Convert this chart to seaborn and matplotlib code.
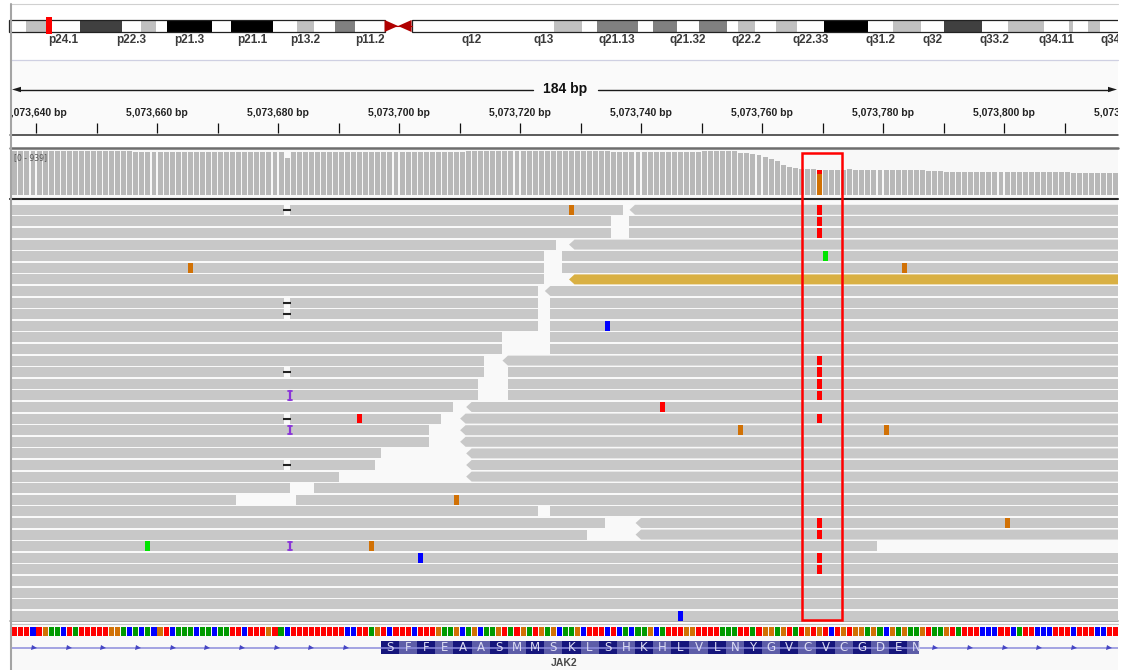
import matplotlib
matplotlib.use("Agg")
import matplotlib.pyplot as plt
import numpy as np
import pandas as pd
import seaborn as sns
from matplotlib.patches import Rectangle, Polygon
from matplotlib import transforms

sns.set_style("white")
plt.rcParams['font.family'] = ['Liberation Sans', 'DejaVu Sans']

W, H = 1125, 670

# ---------------- ideogram (chr9, Mb) ----------------
band_names = ["p24.3", "p24.2", "p24.1", "p23", "p22.3", "p22.2", "p22.1", "p21.3", "p21.2", "p21.1",
              "p13.3", "p13.2", "p13.1", "p12", "p11.2", "p11.1", "q11", "q12", "q13", "q21.11",
              "q21.12", "q21.13", "q21.2", "q21.31", "q21.32", "q21.33", "q22.1", "q22.2", "q22.31",
              "q22.32", "q22.33", "q31.1", "q31.2", "q31.3", "q32", "q33.1", "q33.2", "q33.3",
              "q34.11", "q34.12", "q34.13", "q34.2", "q34.3"]
band_start = [0.0, 2.2, 4.6, 9.0, 14.2, 16.6, 18.5, 19.9, 25.6, 28.0, 33.2, 36.3, 38.4, 41.0, 43.6,
              47.3, 49.0, 50.7, 65.9, 68.7, 72.2, 74.0, 79.2, 81.1, 84.1, 86.9, 90.4, 91.8, 93.9,
              96.6, 99.3, 102.6, 108.2, 111.3, 114.9, 117.7, 122.5, 125.8, 130.3, 133.5, 134.0,
              135.9, 137.4]
chrom_len_mb = 141.2
band_stain = ["gneg", "gpos25", "gneg", "gpos75", "gneg", "gpos25", "gneg", "gpos100", "gneg", "gpos100",
              "gneg", "gpos25", "gneg", "gpos50", "gneg", "acen", "acen", "gvar", "gneg", "gpos25",
              "gneg", "gpos50", "gneg", "gpos50", "gneg", "gpos50", "gneg", "gpos25", "gneg",
              "gpos25", "gneg", "gpos100", "gneg", "gpos25", "gneg", "gpos75", "gneg", "gpos25",
              "gneg", "gpos25", "gneg", "gpos25", "gneg"]
labeled_bands = ["p24.1", "p22.3", "p21.3", "p21.1", "p13.2", "p11.2", "q12", "q13", "q21.13",
                 "q21.32", "q22.2", "q22.33", "q31.2", "q32", "q33.2", "q34.11", "q34.3"]
locus_mb = 5.0737

# ---------------- view / ruler ----------------
view_start, view_end = 5073635.70, 5073818.84
ruler_labels = [5073640, 5073660, 5073680, 5073700, 5073720, 5073740, 5073760, 5073780, 5073800, 5073820]
view_width_text = "184 bp"

# ---------------- coverage ----------------
cov_first_base = 5073637
coverage = [934, 936, 937, 935, 938, 936, 934, 937, 939, 936, 935, 937, 938, 936, 934, 936, 937, 938, 935, 936,
            912, 910, 913, 911, 912, 910, 911, 913, 912,
            926, 925, 927, 924, 926, 928, 925, 926, 927, 925, 924, 926, 927, 925, 926, 924,
            790,
            925, 927, 926, 924, 926, 928, 925, 927, 926, 925, 924, 926, 927, 925, 926, 928, 926, 925,
            927, 924, 926, 925, 927, 926, 925,
            912, 910, 911, 912,
            934, 935, 933, 936, 934, 935, 933, 934, 936, 935, 934, 933, 935, 934, 936,
            938, 939, 937, 938, 939, 938, 937, 939, 938,
            911, 912, 910, 911, 912, 911, 910,
            920, 921, 919, 920, 922, 920, 919, 921,
            937, 938, 936, 937, 938, 936,
            903, 890, 869, 854, 817, 775, 732, 640, 591, 569, 548, 548, 545, 534,
            535, 533, 534, 535,
            555,
            534, 533, 535, 534, 533, 534, 535, 534, 533, 534, 535, 534,
            519, 520, 518,
            497, 498, 496, 497, 498, 497,
            484, 485, 483, 484, 485, 484, 483, 484,
            497,
            484, 483, 485, 484, 483, 484,
            463, 464, 462, 463, 464, 463, 462, 463]
cov_range_max = 939
mut_pos = 5073770
mut_allele_bases = ["G", "T"]
mut_allele_counts = [442, 92]

# ---------------- reference sequence (5073637 .. 5073819) ----------------
ref_seq = ("TTTCTGAACT" "ATTTTTGGAC" "ACACGTCAAA" "CAACAATTCT" "TTGTACTTTT" "TTTTTCCTTA" "G"
           "TCTTTCTTTGAAGCAGCAAGTATGATGAGCAAGCTTTCTCACAAGCATTTGGTTTTAAATTATGGAGTATGTGTCTGTGGAGACGAGAA"
           "GTAAGTATTT" "CCCTTCATTC" "CCTTTCTTTC" "CTT")

# ---------------- gene ----------------
gene_name = "JAK2"
exon_first, exon_last = 5073698, 5073786
amino_acids = "SFFEAASMMSKLSHKHLVLNYGVCVCGDEN"

# ---------------- reads (first base, last base, strand) ----------------
L, R = 5073560, 5073900
read_rows = [
    [(L, 5073737, '+'), (5073740, R, '-')],
    [(L, 5073735, '+'), (5073739, R, '+')],
    [(L, 5073735, '+'), (5073739, R, '+')],
    [(L, 5073726, '+'), (5073730, R, '-')],
    [(L, 5073724, '+'), (5073728, R, '+')],
    [(L, 5073724, '+'), (5073728, R, '+')],
    [(L, 5073724, '+'), (5073730, R, '-')],
    [(L, 5073723, '+'), (5073726, R, '-')],
    [(L, 5073723, '+'), (5073726, R, '+')],
    [(L, 5073723, '+'), (5073726, R, '+')],
    [(L, 5073723, '+'), (5073726, R, '+')],
    [(L, 5073717, '+'), (5073726, R, '+')],
    [(L, 5073717, '+'), (5073726, R, '+')],
    [(L, 5073714, '+'), (5073719, R, '-')],
    [(L, 5073714, '+'), (5073719, R, '+')],
    [(L, 5073713, '+'), (5073719, R, '+')],
    [(L, 5073713, '+'), (5073719, R, '+')],
    [(L, 5073709, '+'), (5073713, R, '-')],
    [(L, 5073707, '+'), (5073712, R, '-')],
    [(L, 5073705, '+'), (5073712, R, '-')],
    [(L, 5073705, '+'), (5073712, R, '-')],
    [(L, 5073697, '+'), (5073713, R, '-')],
    [(L, 5073696, '+'), (5073713, R, '-')],
    [(L, 5073690, '+'), (5073713, R, '-')],
    [(L, 5073682, '+'), (5073687, R, '+')],
    [(L, 5073673, '+'), (5073684, R, '+')],
    [(L, 5073723, '+'), (5073726, R, '+')],
    [(L, 5073734, '+'), (5073741, R, '-')],
    [(L, 5073731, '+'), (5073741, R, '-')],
    [(L, 5073779, '+')],
    [(L, R, '+')],
    [(L, R, '+')],
    [(L, R, '+')],
    [(L, R, '+')],
    [(L, R, '+')],
    [(L, R, '+')],
]
gold_read = (6, 5073730)   # row index, first base of the insert-size coloured read

mismatch_row = [0, 0, 1, 2, 4, 5, 5, 10, 13, 14, 15, 16, 17, 18, 18, 19, 19, 25, 27, 27, 28, 29, 29, 30, 30, 31, 35]
mismatch_pos = [5073729, 5073770, 5073770, 5073770, 5073771, 5073666, 5073784, 5073735, 5073770, 5073770,
                5073770, 5073770, 5073744, 5073694, 5073770, 5073757, 5073781, 5073710, 5073770, 5073801,
                5073770, 5073659, 5073696, 5073704, 5073770, 5073770, 5073747]
mismatch_base = ["G", "T", "T", "T", "A", "G", "G", "C", "T", "T",
                 "T", "T", "T", "T", "T", "G", "G", "G", "T", "G",
                 "T", "A", "G", "C", "T", "T", "C"]
deletion_rows = [0, 8, 9, 14, 18, 22]
deletion_pos = 5073682
insertion_rows = [16, 19, 29]
insertion_after = 5073682
roi_start, roi_end = 5073766.6, 5073773.2

# ---------------- styles ----------------
SEQ_COL = {"A": "#009a00", "C": "#0000ff", "G": "#d17105", "T": "#ff0000"}
MM_COL = {"A": "#00e400", "C": "#0000ff", "G": "#d17105", "T": "#ff0000"}
STAIN = {"gneg": "#ffffff", "gpos25": "#c0c0c0", "gpos50": "#808080", "gpos75": "#404040",
         "gpos100": "#000000", "gvar": "#ffffff"}
READ_GRAY = "#c8c8c8"
GOLD = "#d9b043"

fig = plt.figure(figsize=(W / 100, H / 100), dpi=100)
fig.patch.set_facecolor("white")


def box(x0, y0, x1, y1):
    return [x0 / W, 1 - y1 / H, (x1 - x0) / W, (y1 - y0) / H]


def data_ax(x0, y0, x1, y1, z=2):
    a = fig.add_axes(box(x0, y0, x1, y1), zorder=z)
    a.set_facecolor("none")
    a.axis("off")
    return a


ax_bg = fig.add_axes([0, 0, 1, 1], zorder=0)
ax_bg.set_xlim(0, W)
ax_bg.set_ylim(H, 0)
ax_bg.axis("off")

# panel backgrounds
ax_bg.add_patch(Rectangle((10, 60), 1108, 74, facecolor="#fafafa", edgecolor="none"))
ax_bg.add_patch(Rectangle((10, 148), 1108, 50, facecolor="#f8f8f8", edgecolor="none"))
ax_bg.add_patch(Rectangle((10, 199), 1108, 422, facecolor="#f9f9f9", edgecolor="none"))
ax_bg.add_patch(Rectangle((10, 623), 1108, 47, facecolor="#f9f9f9", edgecolor="none"))

# ---------------- ideogram ----------------
px_per_mb = 7.94
ax_id = data_ax(0, 10, 1118, 50)
ax_id.set_xlim(-9 / px_per_mb, (1118 - 9) / px_per_mb)
ax_id.set_ylim(50, 10)
band_end = band_start[1:] + [chrom_len_mb]
for name, s, e, st in zip(band_names, band_start, band_end, band_stain):
    if st == "acen":
        continue
    ax_id.add_patch(Rectangle((s, 20), e - s, 12, facecolor=STAIN[st], edgecolor="none"))
cen_s = band_start[band_names.index("p11.1")]
cen_m = band_start[band_names.index("q11")]
cen_e = band_start[band_names.index("q12")]
ax_id.add_patch(Rectangle((0, 20), cen_s, 12, fill=False, edgecolor="#222222", lw=0.9))
ax_id.add_patch(Rectangle((cen_e, 20), chrom_len_mb - cen_e, 12, fill=False, edgecolor="#222222", lw=0.9))
ax_id.plot([cen_s, cen_e], [26, 26], color="#b00000", lw=0.8)
ax_id.add_patch(Polygon([(cen_s, 20), (cen_s, 32), (cen_m, 26)], facecolor="#b00000", edgecolor="none"))
ax_id.add_patch(Polygon([(cen_e, 20), (cen_e, 32), (cen_m, 26)], facecolor="#b00000", edgecolor="none"))
ax_id.add_patch(Rectangle((locus_mb - 0.36, 17), 0.72, 17, facecolor="#ff0000", edgecolor="none"))
for name in labeled_bands:
    i = band_names.index(name)
    ax_id.text((band_start[i] + band_end[i]) / 2, 39.5, name, ha="center", va="center",
               fontsize=8.5, fontweight="bold", color="#3a3a3a", clip_on=True)

# ---------------- top lines ----------------
ax_bg.plot([10, 1118], [4, 4], color="#d0d0d0", lw=0.8)
ax_bg.plot([10, 1118], [60, 60], color="#cfd0e2", lw=0.9)

# 184 bp scale
ax_bg.plot([18, 533], [89.5, 89.5], color="#1a1a1a", lw=1.0)
ax_bg.plot([598, 1110], [89.5, 89.5], color="#1a1a1a", lw=1.0)
ax_bg.add_patch(Polygon([(12, 89.5), (21, 86.8), (21, 92.2)], facecolor="#1a1a1a", edgecolor="none"))
ax_bg.add_patch(Polygon([(1117, 89.5), (1108, 86.8), (1108, 92.2)], facecolor="#1a1a1a", edgecolor="none"))
ax_bg.text(565, 89.5, view_width_text, ha="center", va="center", fontsize=10, fontweight="bold",
           color="#111111")

# ---------------- ruler ----------------
ax_ru = data_ax(10, 60, 1118, 134)
ax_ru.set_xlim(view_start, view_end)
ax_ru.set_ylim(134, 60)
tick_pos = list(range(ruler_labels[0], int(view_end) + 1, 10))
ax_ru.vlines(tick_pos, 123, 133, color="#111111", lw=0.9)
for p in ruler_labels:
    ax_ru.text(p, 113.5, f"{p:,} bp", ha="center", va="center", fontsize=7.5, fontweight="bold",
               color="#222222", clip_on=True)
ax_bg.add_patch(Rectangle((10, 134), 1108, 13.5, facecolor="white", edgecolor="none"))
ax_bg.plot([10, 1118], [134.5, 134.5], color="#2e2e2e", lw=1.1)
ax_bg.plot([10, 1118], [147.6, 147.6], color="#6e6e6e", lw=1.8)

# ---------------- coverage ----------------
ax_cov = data_ax(10, 151, 1118, 195)
cov_df = pd.DataFrame({"pos": np.arange(cov_first_base, cov_first_base + len(coverage)) - 0.5,
                       "depth": coverage})
sns.barplot(data=cov_df, x="pos", y="depth", native_scale=True, color="#b8b8b8", saturation=1,
            width=0.82, errorbar=None, edgecolor="none", linewidth=0, ax=ax_cov)
bottom = 0
for b, n in zip(mut_allele_bases, mut_allele_counts):
    ax_cov.bar(mut_pos - 0.5, n, bottom=bottom, width=0.82, color=SEQ_COL[b], edgecolor="none")
    bottom += n
ax_cov.set_xlim(view_start, view_end)
ax_cov.set_ylim(0, cov_range_max)
ax_cov.axis("off")
ax_bg.plot([10, 1118], [198.6, 198.6], color="#262626", lw=1.5, zorder=5)

# ---------------- reads ----------------
pitch = 11.6
ax_rd = data_ax(10, 199, 1118, 621)
ax_rd.set_xlim(view_start, view_end)
ax_rd.set_ylim((621 - 209.8) / pitch, (199 - 209.8) / pitch)
hh = 0.43
for k, row in enumerate(read_rows):
    for first, last, strand in row:
        s, e = first - 1, last
        col = GOLD if (k, first) == gold_read else READ_GRAY
        if strand == "-":
            pts = [(s - 0.9, k), (s, k - hh), (e, k - hh), (e, k + hh), (s, k + hh)]
        else:
            pts = [(s, k - hh), (e, k - hh), (e, k + hh), (s, k + hh)]
        ax_rd.add_patch(Polygon(pts, closed=True, facecolor=col, edgecolor="none"))
for k in deletion_rows:
    ax_rd.add_patch(Rectangle((deletion_pos - 1.05, k - 0.5), 1.1, 1.0, facecolor="#f9f9f9",
                              edgecolor="none", zorder=3))
    ax_rd.plot([deletion_pos - 1.15, deletion_pos + 0.15], [k, k], color="#222222", lw=1.5,
               solid_capstyle="butt", zorder=4)
for k in insertion_rows:
    c = insertion_after
    ax_rd.plot([c, c], [k - 0.36, k + 0.36], color="#8a35d8", lw=1.6, zorder=4)
    ax_rd.plot([c - 0.3, c + 0.3], [k - 0.36, k - 0.36], color="#8a35d8", lw=1.3, zorder=4)
    ax_rd.plot([c - 0.3, c + 0.3], [k + 0.36, k + 0.36], color="#8a35d8", lw=1.3, zorder=4)
for k, p, b in zip(mismatch_row, mismatch_pos, mismatch_base):
    ax_rd.add_patch(Rectangle((p - 1 + 0.08, k - 0.41), 0.84, 0.82, facecolor=MM_COL[b],
                              edgecolor="none", zorder=5))

ax_bg.plot([10, 1118], [621.2, 621.2], color="#9a9a9a", lw=1.2, zorder=5)
ax_bg.plot([10, 1118], [623.6, 623.6], color="#c4c4c4", lw=0.8, zorder=5)

# ---------------- sequence track ----------------
ax_sq = data_ax(10, 624, 1118, 638)
ax_sq.set_xlim(view_start, view_end)
ax_sq.set_ylim(638, 624)
for i, b in enumerate(ref_seq):
    p = cov_first_base + i
    ax_sq.add_patch(Rectangle((p - 1 + 0.08, 627), 0.84, 9, facecolor=SEQ_COL[b], edgecolor="none"))

# ---------------- gene track ----------------
ax_gn = data_ax(10, 638, 1118, 670)
ax_gn.set_xlim(view_start, view_end)
ax_gn.set_ylim(670, 638)
ax_gn.plot([view_start, view_end], [647.5, 647.5], color="#8c8cdc", lw=1.1)
chev = np.arange(view_start + 24 / 6.05, view_end, 34.67 / 6.05)
chev = chev[(chev < exon_first - 1.5) | (chev > exon_last + 0.5)]
ax_gn.plot(chev, np.full(len(chev), 647.5), linestyle="none", marker=">", markersize=3.6,
           color="#4646c4", markeredgewidth=0)
exon_patch = Rectangle((exon_first - 1, 641), exon_last - exon_first + 1, 13, facecolor="none",
                       edgecolor="none")
ax_gn.add_patch(exon_patch)
for i, aa in enumerate(amino_acids):
    c0 = exon_first - 1 + 3 * i
    c1 = min(c0 + 3, exon_last)
    ax_gn.add_patch(Rectangle((c0, 641), c1 - c0, 13, facecolor="#16167c" if i % 2 == 0 else "#5d5da8",
                              edgecolor="none"))
    t = ax_gn.text(c0 + 1.5, 647.8, aa, ha="center", va="center", fontsize=8.5, color="#dcdcf2",
                   family="DejaVu Sans")
    t.set_clip_path(exon_patch)
ax_gn.text((view_start + view_end) / 2, 663.5, gene_name, ha="center", va="center", fontsize=7.5,
           fontweight="bold", color="#4a4a4a")

# ---------------- overlay: borders, labels, highlight ----------------
ax_top = fig.add_axes([0, 0, 1, 1], zorder=10)
ax_top.set_facecolor("none")
ax_top.set_xlim(0, W)
ax_top.set_ylim(H, 0)
ax_top.axis("off")
ax_top.plot([10.8, 10.8], [4, 670], color="#a4a4a4", lw=1.5)
ax_top.text(14, 157.5, f"[0 - {cov_range_max}]", ha="left", va="center", fontsize=5.5, color="#555555",
            family="DejaVu Sans")
blend = transforms.blended_transform_factory(ax_rd.transData, ax_top.transData)
ax_top.add_patch(Rectangle((roi_start, 153), roi_end - roi_start, 467, transform=blend, fill=False,
                           edgecolor="#ff0000", lw=1.8))

fig.savefig("out.png", dpi=100, facecolor="white")
